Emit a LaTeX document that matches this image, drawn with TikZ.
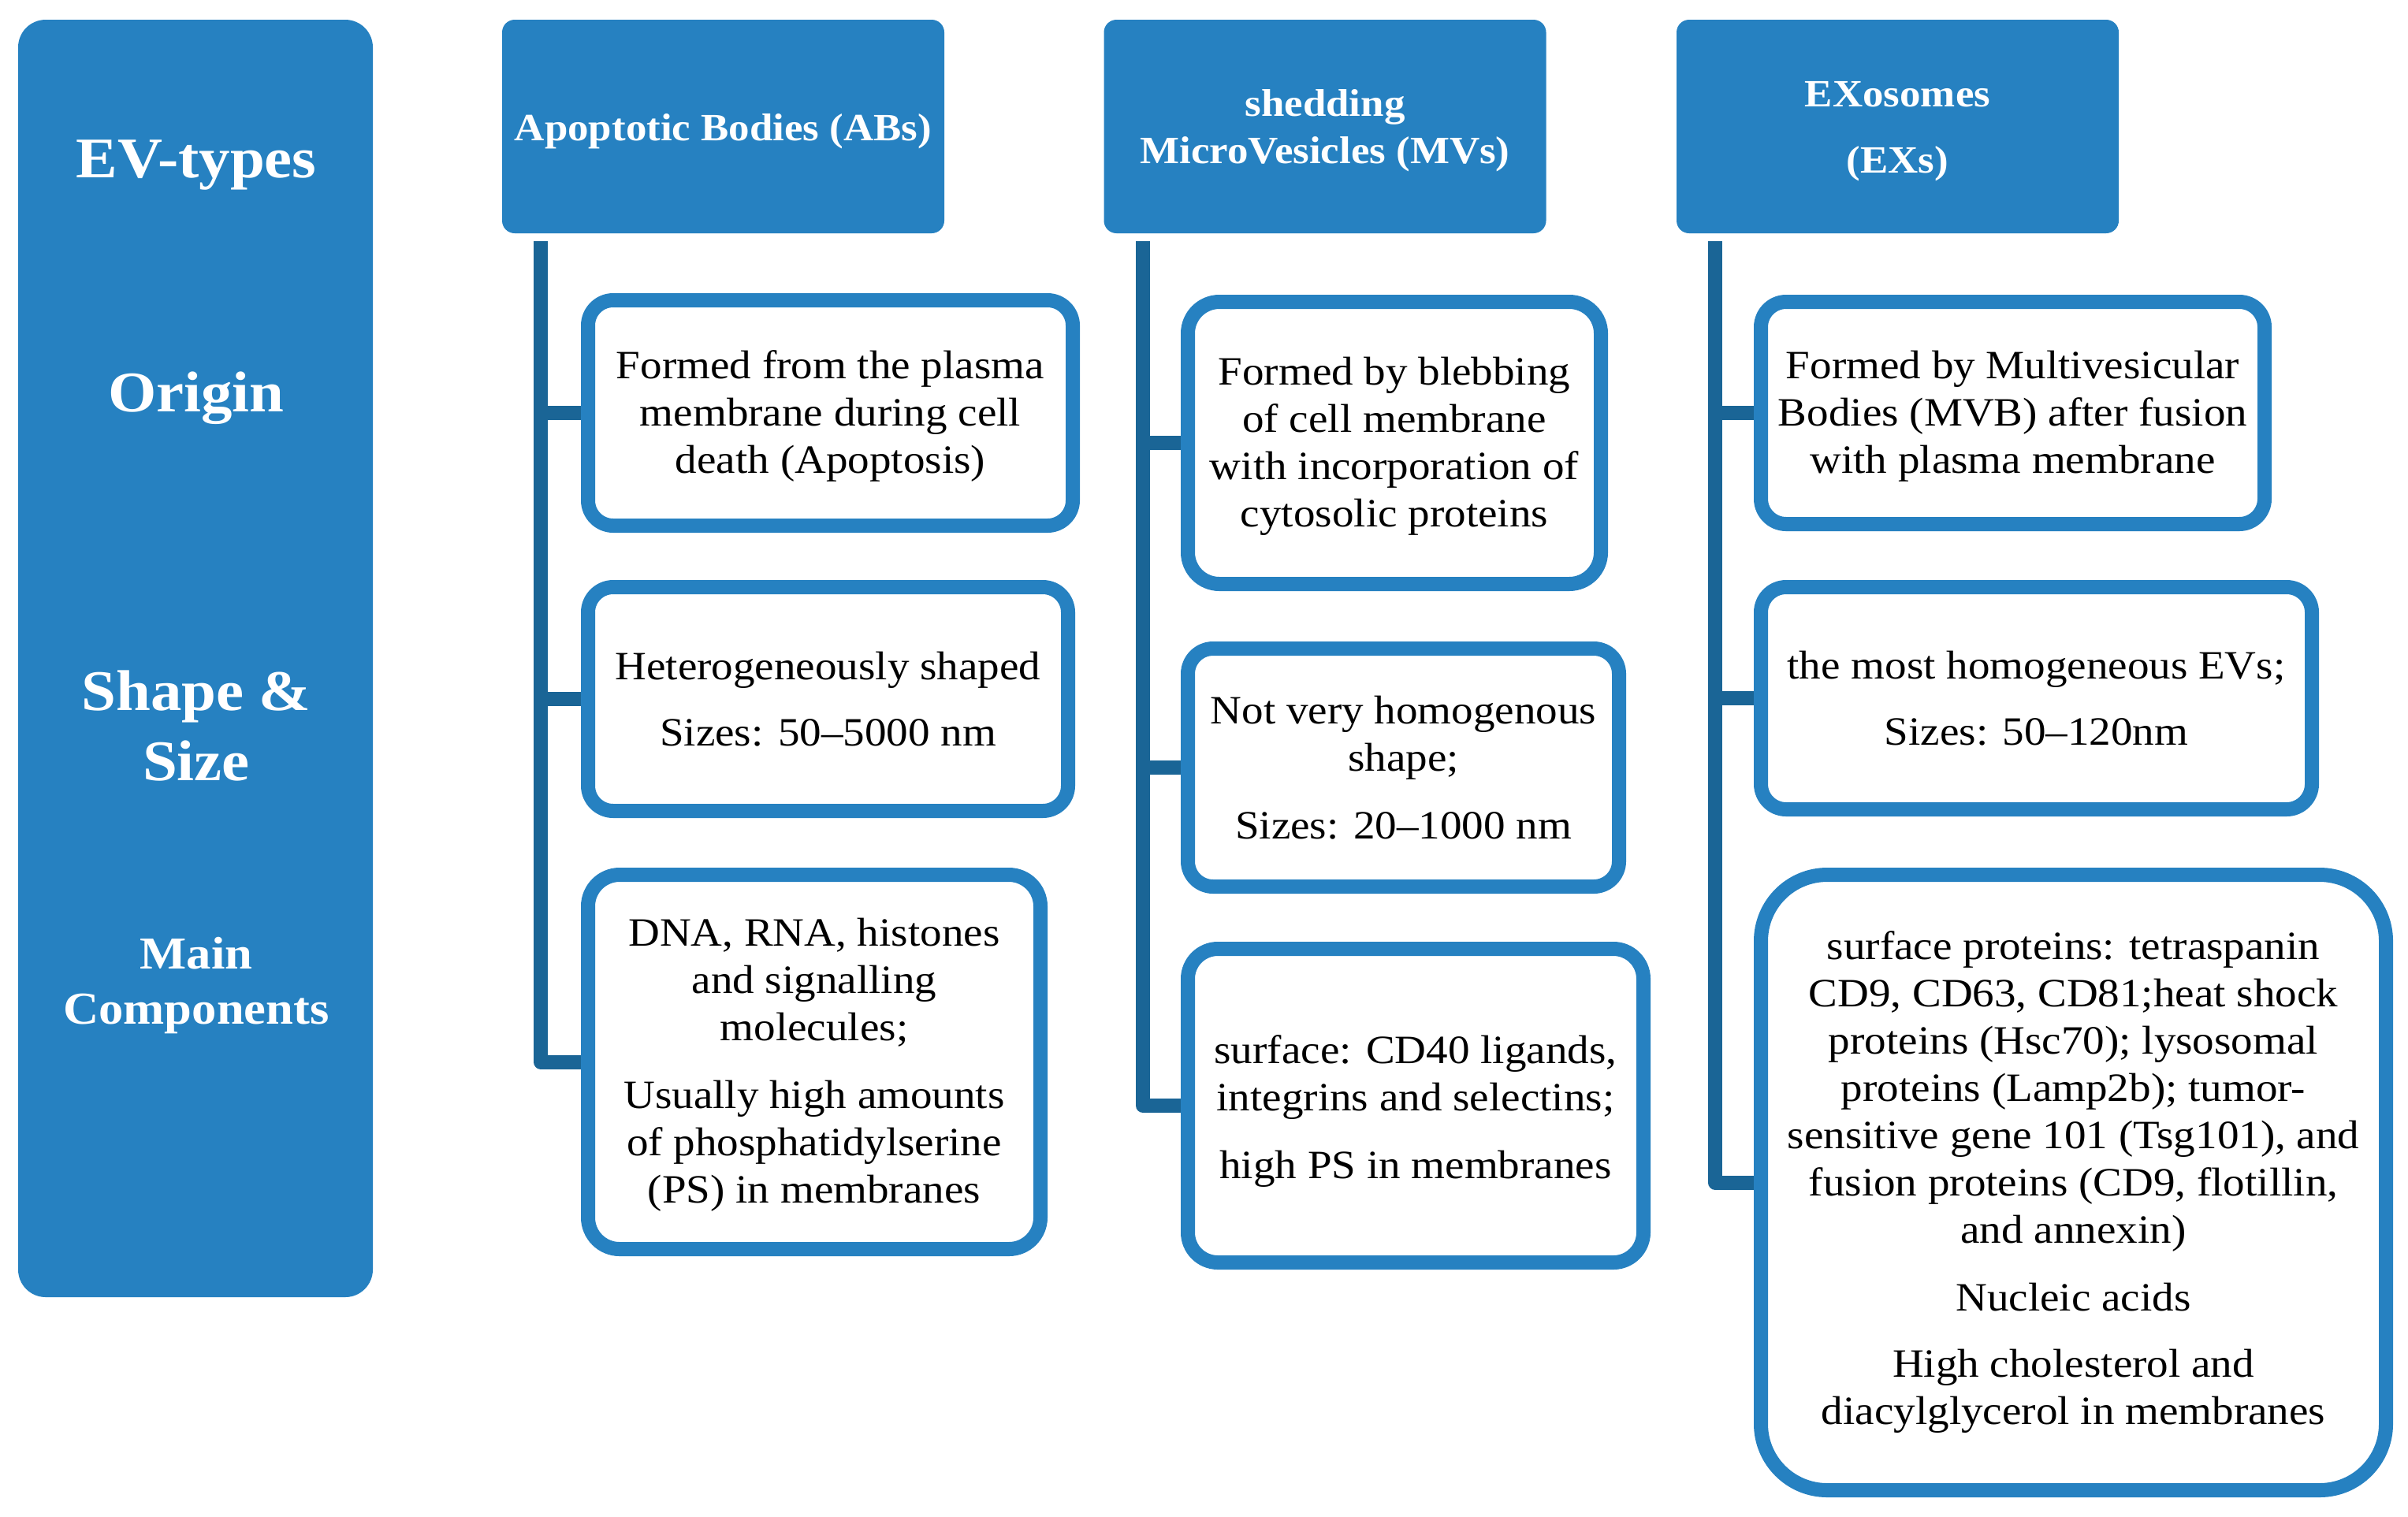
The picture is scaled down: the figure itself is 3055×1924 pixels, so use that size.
\documentclass[tikz,border=0pt]{standalone}
\usepackage{fontspec}
\setmainfont{Liberation Serif}[FakeStretch=1.08]
\definecolor{evblue}{RGB}{38,129,193}
\definecolor{evdark}{RGB}{26,101,150}
\tikzset{
 hdr/.style={fill=evblue, rounded corners=8pt, minimum width=280.5pt, minimum height=135.5pt, inner sep=0pt},
 hdrtext/.style={inner sep=0pt, text=white, font=\fontsize{24.5}{30}\selectfont\bfseries, align=center},
 infobox/.style={draw=evblue, line width=9pt, fill=white, rounded corners=16pt, inner sep=0pt},
 boxtext/.style={inner sep=0pt, align=center, font=\fontsize{25.5}{30}\selectfont},
 conn/.style={draw=evdark, line width=9pt, line join=round},
 side/.style={text=white, font=\fontsize{36.5}{44.5}\selectfont\bfseries, align=center, inner sep=0pt},
 sidesmall/.style={text=white, font=\fontsize{29}{35}\selectfont\bfseries, align=center, inner sep=0pt}
}
\begin{document}
\begin{tikzpicture}[x=0.5pt,y=-0.5pt]
\useasboundingbox (0,0) rectangle (3055,1924);
% left column
\node[fill=evblue, rounded corners=17.5pt, minimum width=225pt, minimum height=810.5pt, inner sep=0pt] (col) at (248,835.5) {};
\node[side] (lt) at (249,209) {EV-types};
\node[side] (lo) at (249,505) {Origin};
\node[side] (ls) at (249,921.5) {Shape \&\\Size};
\node[sidesmall] (lm) at (249,1251) {Main\\Components};
% headers
\node[hdr] (hab) at (917.5,160.5) {};
\node[hdr] (hmv) at (1681,160.5) {};
\node[hdr] (hex) at (2407.5,160.5) {};
\node[hdrtext] (tab) at ([yshift=-3pt]hab.center) {Apoptotic Bodies (ABs)};
\node[hdrtext] (tmv) at ([yshift=-2.5pt]hmv.center) {shedding\\MicroVesicles (MVs)};
\node[hdrtext] (tex) at ([yshift=-3pt]hex.center) {EXosomes\\[12pt](EXs)};
% ABs boxes
\node[infobox, minimum width=307.5pt, minimum height=143pt] (ab1) at (1053.5,524) {};
\node[infobox, minimum width=304.5pt, minimum height=142pt] (ab2) at (1050.5,887) {};
\node[infobox, rounded corners=20pt, minimum width=287pt, minimum height=237.5pt] (ab3) at (1033,1347.5) {};
\node[boxtext] (tab1) at ([yshift=-2pt]ab1.center) {Formed from the plasma\\membrane during cell\\death (Apoptosis)};
\node[boxtext] (tab2) at (ab2.center) {Heterogeneously shaped\\[12pt]Sizes: 50--5000 nm};
\node[boxtext] (tab3) at ([yshift=-2pt]ab3.center) {DNA, RNA, histones\\and signalling\\molecules;\\[13pt]Usually high amounts\\of phosphatidylserine\\(PS) in membranes};
% MVs boxes
\node[infobox, rounded corners=20pt, minimum width=262pt, minimum height=179pt] (mv1) at (1769,562) {};
\node[infobox, minimum width=273.5pt, minimum height=151pt] (mv2) at (1780.5,974) {};
\node[infobox, rounded corners=19pt, minimum width=289pt, minimum height=199pt] (mv3) at (1796,1403) {};
\node[boxtext] (tmv1) at ([yshift=-2pt]mv1.center) {Formed by blebbing\\of cell membrane\\with incorporation of\\cytosolic proteins};
\node[boxtext] (tmv2) at (mv2.center) {Not very homogenous\\shape;\\[13pt]Sizes: 20--1000 nm};
\node[boxtext] (tmv3) at ([yshift=-3.5pt]mv3.center) {surface: CD40 ligands,\\integrins and selectins;\\[13pt]high PS in membranes};
% EXs boxes
\node[infobox, minimum width=319.5pt, minimum height=141pt] (ex1) at (2553.5,524) {};
\node[infobox, minimum width=349.5pt, minimum height=141pt] (ex2) at (2583.5,886) {};
\node[infobox, rounded corners=42pt, minimum width=396.5pt, minimum height=390.5pt] (ex3) at (2630.5,1500.5) {};
\node[boxtext] (tex1) at ([yshift=-2pt]ex1.center) {Formed by Multivesicular\\Bodies (MVB) after fusion\\with plasma membrane};
\node[boxtext] (tex2) at (ex2.center) {the most homogeneous EVs;\\[12pt]Sizes: 50--120nm};
\node[boxtext] (tex3) at (ex3.center) {surface proteins: tetraspanin\\CD9, CD63, CD81;heat shock\\proteins (Hsc70); lysosomal\\proteins (Lamp2b); tumor-\\sensitive gene 101 (Tsg101), and\\fusion proteins (CD9, flotillin,\\and annexin)\\[13pt]Nucleic acids\\[12pt]High cholesterol and\\diacylglycerol in membranes};
% connectors
\coordinate (abtop) at (686,306);
\coordinate (mvtop) at (1450,306);
\coordinate (extop) at (2176,306);
\draw[conn] (abtop) |- (ab3.west);
\draw[conn] (abtop |- ab1.west) -- (ab1.west);
\draw[conn] (abtop |- ab2.west) -- (ab2.west);
\draw[conn] (mvtop) |- (mv3.west);
\draw[conn] (mvtop |- mv1.west) -- (mv1.west);
\draw[conn] (mvtop |- mv2.west) -- (mv2.west);
\draw[conn] (extop) |- (ex3.west);
\draw[conn] (extop |- ex1.west) -- (ex1.west);
\draw[conn] (extop |- ex2.west) -- (ex2.west);
\end{tikzpicture}
\end{document}
